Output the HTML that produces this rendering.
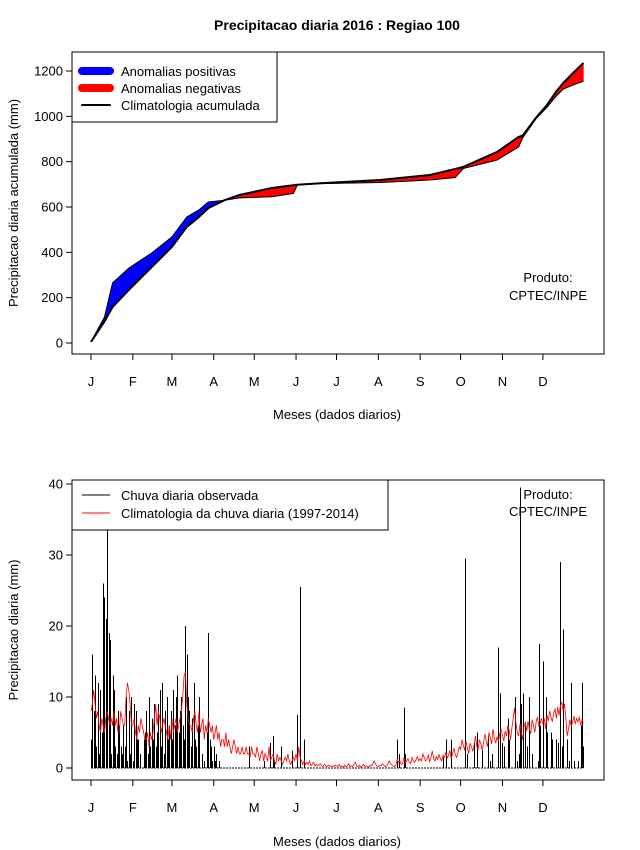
<!DOCTYPE html>
<html><head><meta charset="utf-8"><style>
html,body{margin:0;padding:0;background:#fff;}
svg{display:block;font-family:"Liberation Sans",Arial,sans-serif;}
</style></head><body>
<svg id="chart" width="640" height="850" viewBox="0 0 640 850" xmlns="http://www.w3.org/2000/svg">
<rect x="0" y="0" width="640" height="850" fill="#fff"/>
<text x="337" y="30" text-anchor="middle" font-size="14" font-weight="bold">Precipitacao diaria 2016 : Regiao 100</text>
<g id="topPanel"></g>
<g id="botPanel"></g>
</svg>
<script>
// ---- top panel data (cumulative, sampled days) ----
const sampleDays = [0,5,10,16,28,45,60,71,80,87,99,110,134,150,153,170,214,251,270,276,301,317,320,330,338,345,350,358,365];
const obsCum   = [5,60,115,265,330,397,468,556,587,622,630,640,645,660,697,703,708,719,730,770,807,865,905,990,1040,1090,1120,1140,1155];
const climCum  = [5,50,95,159,234,335,424,512,556,595,630,653,684,696,698,705,719,741,768,777,843,909,915,995,1050,1110,1147,1195,1235];
const topYTicks = [0,200,400,600,800,1000,1200];
const monthLabels = ["J","F","M","A","M","J","J","A","S","O","N","D"];
const monthStart = [0,31,60,91,121,152,182,213,244,274,305,335];

// ---- bottom panel data (daily) ----
const obsJan=[4,16,8,13,3,12,2,11,5,26,24,21,34,19,18,2,13,11,3,2,8,6,3,2,6,3,10,1,8,2,10];
const obsFeb=[1,9,8,4,4,2,0,0,4,5,8,2,10,3,7,4,9,3,5,9,11,3,12,2,8,10,4,6,8];
const obsMar=[4,11,6,10,13,5,8,10,6,4,20,16,10,8,3,7,12,4,3,6,10,0,2,0,1,0,5,19,4,3,1];
const obsApr=[3,1,2,0,1,0,0,0,0,0,0,0,0,0,0,0,0,0,0,0,0,0,0,0,0,0,3,0,0,0];
const obsMay=[0,0,0,0,0,0,0,1,0,0,0,0,3.5,0,4.5,1,0,0,0,0,3,0,0,0,0,0,0,0,2.5,0,0];
const obsJun=[0,7.5,0,25.5,0,0,4,0,0,0,0,0,0,0,0,0,0,0,0,0,0,0,0,0,0,0,0,0,0,0];
const obsJul=[0,0,0,0,0,0,0,0,0,0,0,0,0,0,0,0,0,0,0,0,0,0,0,0,0,0,0,0,0,0,0];
const obsAug=[0,0,0,0,0,0,0,0,0,0,0,0,0,0,4,2,0,0,0,8.5,2,0,0,0,0,0,0,0,0,0,0];
const obsSep=[0,0,0,0,0,0,0,0,0,0,0,0,0,0,0,0,0,1.5,0,4,0,0,0,4,0,0,0,0,0,0];
const obsOct=[0,0,0,29.5,0,2,0,0,0,0,3.5,0,5,0,0,0,2.5,0,0,0,4.5,0,1,2,0,0,0,0,17,10.5,0];
const obsNov=[3.5,3,0,0,7,4,0,0,0,10,0,1,2,39.5,9,10.5,0,6,3,0,10,0,2,0,0,0,1,17.5,6,0];
const obsDec=[15,0,10,5,0,0,5,4,0,0,4,3.5,0,29,3,19.5,0,0,4,1,0,12,0,1,0,0,1,0,6,12,3];
const climJan=[8,9,11,9,7,8,6,5,7,6,5,7,8,7,6,7,6,8,6,7,5,5,8,7,6,6,10,12,11,9,6];
const climFeb=[6,7,5,4,6,5,7,6,5,4,4,5,3,5,4,5,7,9,6,8,7,5,6,7,6,5,4,6,4];
const climMar=[7,5,6,7,5,6,7,8,10,13,13.5,9,7,6,6,5,7,8,6,5,8,5,6,7,4,6,5,7,6,5,6];
const climApr=[4,5,6,4,5,3,4,4,3,5,3,4,3,2,3,4,3,2,3,2,2,3,2,2,3,2,2,1.5,3,2];
const climMay=[2,1.5,3,2,1,2,2.5,1,2,1.5,1,3,1,1.5,2,1,0.5,2,1,1.5,1,0.5,1,1.5,1,2,1,0.5,1,1.5,1];
const climJun=[2,1,3,1.5,1,0.5,1,0.5,0.8,0.5,1,0.3,0.5,0.8,0.3,0.5,0.3,0.4,0.6,0.3,0.2,0.5,0.3,0.2,0.4,0.3,0.2,0.3,0.2,0.4];
const climJul=[0.3,0.2,0.5,0.2,0.3,0.1,0.4,0.2,0.3,0.6,0.2,0.3,0.2,0.5,0.8,0.3,0.2,0.4,0.1,0.3,0.5,0.2,0.3,0.2,0.1,0.4,0.3,0.6,1,0.5,0.3];
const climAug=[0.2,0.4,0.3,0.6,0.4,0.2,0.3,0.5,1,0.6,0.4,0.3,0.2,0.4,1.2,0.8,1,0.5,0.6,1.5,0.7,1,1.3,0.8,0.6,1.5,1,0.8,1.2,1.6,1];
const climSep=[1.3,1,2,1.5,1,1.2,1.8,0.9,1.5,2.4,1.3,1,1.6,1.2,1.9,1.3,1,1.8,1.5,2.2,1.4,1.8,2.5,1.3,2,2.8,1.9,1.5,2.2,3];
const climOct=[2.6,4,3.2,2.5,3.8,2.8,2,3.5,3,2.4,3.3,4.5,3,2.6,4,3.4,2.5,3.6,4.8,3.8,3,5,4.3,3.4,5.5,4.2,3.5,4.4,3.7,4.8,5.5];
const climNov=[4.6,3.8,5.2,4.5,6,5.3,4,5.6,7,8.5,6.3,5,4.5,6.2,5,4,5.8,6.5,5.2,6.6,5.4,4.8,6.8,6,5,6.5,7.2,5.8,6.3,7];
const climDec=[6.2,7,5.5,7.5,6.6,8,7.2,6.5,7.8,8.3,7,8.6,7.4,8.8,9.2,8,9,7,4.5,5.5,6.8,5.8,6.5,7.3,6.2,7,6.5,7.2,6,6.8,6.3];
const botYTicks=[0,10,20,30,40];

const NS="http://www.w3.org/2000/svg";
function mk(parent,tag,attrs){const e=document.createElementNS(NS,tag);for(const k in attrs)e.setAttribute(k,attrs[k]);parent.appendChild(e);return e;}
const xDay=d=>91+d*1.349;
const yTop=v=>343-v*0.22667;
const yBot=v=>768-v*7.1;

function axes(g,box,yTicks,yScale,ylabel,xlabelY){
  const r=mk(g,'rect',{x:box[0],y:box[1],width:box[2]-box[0],height:box[3]-box[1],fill:'none',stroke:'#000','stroke-width':1});
  
  
  yTicks.forEach(t=>{
    const y=yScale(t);
    const l=mk(g,'line',{x1:box[0]-6,x2:box[0],y1:y,y2:y,stroke:'#000'});
    
    
    const tx=mk(g,'text',{x:box[0]-9,y:y+4.5,'text-anchor':'end','font-size':13});
    
    
    tx.textContent=t;
  });
  const yl=mk(g,'line',{x1:box[0],x2:box[0],y1:yScale(yTicks[0]),y2:yScale(yTicks[yTicks.length-1]),stroke:'#000'});
  
  
  const xl=mk(g,'line',{x1:xDay(0),x2:xDay(monthStart[11]),y1:box[3],y2:box[3],stroke:'#000'});
  
  
  monthStart.forEach((d,i)=>{
    const x=xDay(d);
    const l=mk(g,'line',{x1:x,x2:x,y1:box[3],y2:box[3]+6,stroke:'#000'});
    
    
    const tx=mk(g,'text',{x:x,y:box[3]+32,'text-anchor':'middle','font-size':13});
    
    
    tx.textContent=monthLabels[i];
  });
  const xt=mk(g,'text',{x:337,y:xlabelY,'text-anchor':'middle','font-size':13});
  
  
  xt.textContent='Meses (dados diarios)';
  const cy=(box[1]+box[3])/2;
  const yt=mk(g,'text',{x:18,y:cy,'text-anchor':'middle','font-size':13,transform:`rotate(-90 18 ${cy})`});
  
  
  yt.textContent=ylabel;
}

// ---- top panel ----
const topG=document.getElementById('topPanel');
function quad(pts,col){
  const p=mk(topG,'polygon',{points:pts.map(q=>q.join(',')).join(' '),fill:col,stroke:col,'stroke-width':0.6});
  
  
}
for(let i=0;i<sampleDays.length-1;i++){
  const d0=sampleDays[i],d1=sampleDays[i+1];
  const a0=obsCum[i]-climCum[i],a1=obsCum[i+1]-climCum[i+1];
  const P=(d,v)=>[xDay(d),yTop(v)];
  if(a0*a1>=0){
    const col=(a0+a1)>=0?'#0000ff':'#ff0000';
    quad([P(d0,obsCum[i]),P(d1,obsCum[i+1]),P(d1,climCum[i+1]),P(d0,climCum[i])],col);
  } else {
    const t=a0/(a0-a1);
    const dc=d0+t*(d1-d0),vc=climCum[i]+t*(climCum[i+1]-climCum[i]);
    quad([P(d0,obsCum[i]),P(dc,vc),P(d0,climCum[i])],a0>0?'#0000ff':'#ff0000');
    quad([P(dc,vc),P(d1,obsCum[i+1]),P(d1,climCum[i+1])],a1>0?'#0000ff':'#ff0000');
  }
}
const ol=mk(topG,'polyline',{points:sampleDays.map((d,i)=>xDay(d)+','+yTop(obsCum[i])).join(' '),fill:'none',stroke:'#000','stroke-width':1});


const cl=mk(topG,'polyline',{points:sampleDays.map((d,i)=>xDay(d)+','+yTop(climCum[i])).join(' '),fill:'none',stroke:'#000','stroke-width':2});


axes(topG,[72,52,604,354],topYTicks,yTop,'Precipitacao diaria acumulada (mm)',419);

// top legend
const lg=mk(topG,'g',{});


mk(lg,'rect',{x:72,y:52,width:205,height:70,fill:'#fff',stroke:'#000'});
const lt=[['Anomalias positivas','#0000ff',8],['Anomalias negativas','#ff0000',8],['Climatologia acumulada','#000',2]];
lt.forEach((e,i)=>{
  const y=71+i*17;
  const ln=mk(lg,'line',{x1:82,x2:110,y1:y,y2:y,stroke:e[1],'stroke-width':e[2],'stroke-linecap':'round'});
  
  
  const tx=mk(lg,'text',{x:121,y:y+5,'font-size':13});
  
  
  tx.textContent=e[0];
});
[['Produto:',282],['CPTEC/INPE',300]].forEach(e=>{
  const tx=mk(topG,'text',{x:548,y:e[1],'text-anchor':'middle','font-size':13});
  
  
  tx.textContent=e[0];
});

// ---- bottom panel ----
const botG=document.getElementById('botPanel');
const obsDaily=[].concat(obsJan,obsFeb,obsMar,obsApr,obsMay,obsJun,obsJul,obsAug,obsSep,obsOct,obsNov,obsDec);
const climDaily=[].concat(climJan,climFeb,climMar,climApr,climMay,climJun,climJul,climAug,climSep,climOct,climNov,climDec);
obsDaily.forEach((v,d)=>{
  const x=Math.round(xDay(d))+0.5;
  const b=mk(botG,'line',{x1:x,x2:x,y1:yBot(0),y2:yBot(Math.min(v,40.5)),stroke:'#000','stroke-width':1,'shape-rendering':'crispEdges'});
  
  
});
const zl=mk(botG,'line',{x1:xDay(0),x2:xDay(365),y1:yBot(0),y2:yBot(0),stroke:'#000','stroke-width':1,'stroke-dasharray':'2,1'});


const cd=mk(botG,'polyline',{points:climDaily.map((v,d)=>xDay(d)+','+yBot(v)).join(' '),fill:'none',stroke:'#ff0000','stroke-width':0.8});


axes(botG,[72,480,604,780],botYTicks,yBot,'Precipitacao diaria (mm)',846);
const lg2=mk(botG,'g',{});


mk(lg2,'rect',{x:72,y:480,width:316,height:50,fill:'#fff',stroke:'#000'});
[['Chuva diaria observada','#000'],['Climatologia da chuva diaria (1997-2014)','#ff0000']].forEach((e,i)=>{
  const y=495+i*18;
  const ln=mk(lg2,'line',{x1:82,x2:110,y1:y,y2:y,stroke:e[1],'stroke-width':1});
  
  
  const tx=mk(lg2,'text',{x:121,y:y+5,'font-size':13});
  
  
  tx.textContent=e[0];
});
[['Produto:',499],['CPTEC/INPE',516]].forEach(e=>{
  const tx=mk(botG,'text',{x:548,y:e[1],'text-anchor':'middle','font-size':13});
  
  
  tx.textContent=e[0];
});
</script>
</body></html>
